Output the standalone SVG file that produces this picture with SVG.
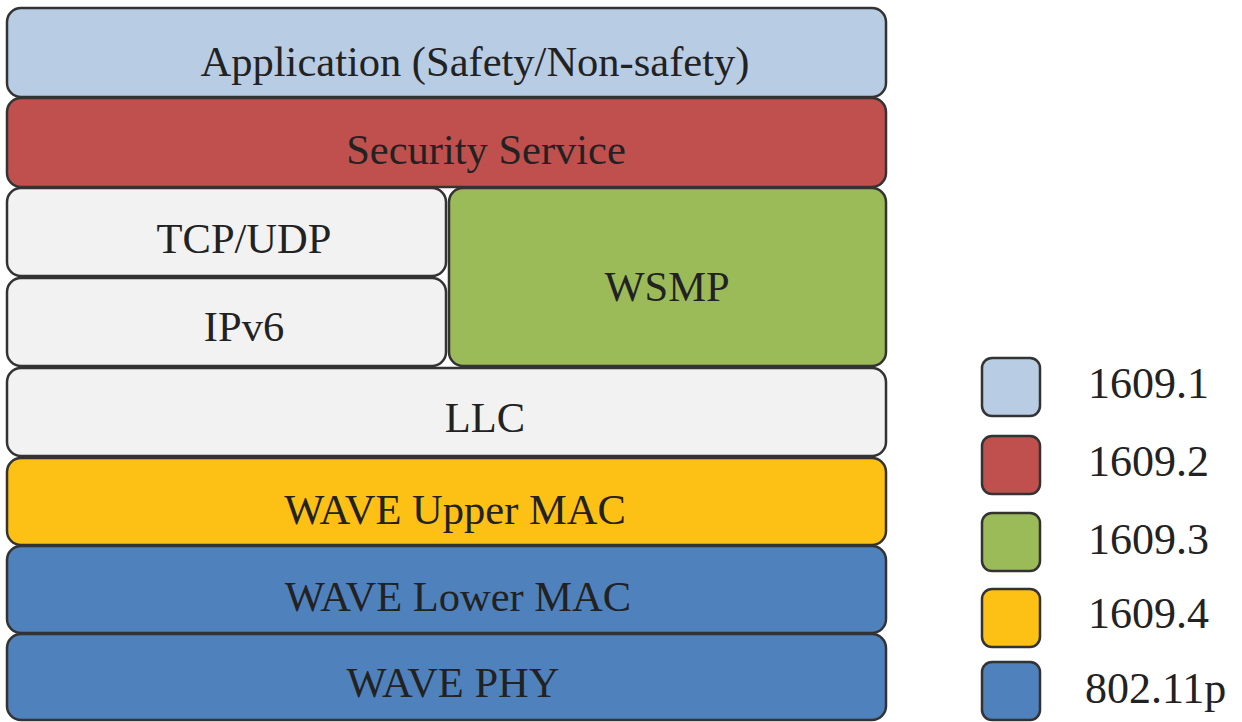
<svg xmlns="http://www.w3.org/2000/svg" width="1242" height="722" viewBox="0 0 1242 722">
<style>
.b{stroke:#333;stroke-width:2.5}
.t{font-family:"Liberation Serif","Times New Roman",serif;font-size:42.5px;fill:#222;text-anchor:middle}
.l{font-family:"Liberation Serif","Times New Roman",serif;font-size:44px;fill:#222}
.c1{fill:#b8cce4}.c2{fill:#c0504d}.c3{fill:#9bbb59}.c4{fill:#fdc014}.c5{fill:#4f81bd}.cg{fill:#f2f2f2}
</style>
<rect width="1242" height="722" fill="#fff"/>
<g id="application"><rect class="b c1" x="7" y="8" width="879" height="89" rx="14"/><text class="t" x="475" y="76">Application (Safety/Non-safety)</text></g>
<g id="security"><rect class="b c2" x="7" y="98" width="879" height="89" rx="14"/><text class="t" x="486" y="164">Security Service</text></g>
<g id="tcpudp"><rect class="b cg" x="7" y="188" width="439" height="88" rx="14"/><text class="t" x="244" y="253">TCP/UDP</text></g>
<g id="ipv6"><rect class="b cg" x="7" y="278" width="439" height="88" rx="14"/><text class="t" x="244" y="341">IPv6</text></g>
<g id="wsmp"><rect class="b c3" x="449" y="188" width="437" height="178" rx="14"/><text class="t" x="667" y="301">WSMP</text></g>
<g id="llc"><rect class="b cg" x="7" y="368" width="879" height="88" rx="14"/><text class="t" x="485" y="432">LLC</text></g>
<g id="upper-mac"><rect class="b c4" x="7" y="458" width="879" height="87" rx="14"/><text class="t" x="455" y="524">WAVE Upper MAC</text></g>
<g id="lower-mac"><rect class="b c5" x="7" y="546" width="879" height="87" rx="14"/><text class="t" x="458" y="611">WAVE Lower MAC</text></g>
<g id="phy"><rect class="b c5" x="7" y="634" width="879" height="86" rx="14"/><text class="t" x="453" y="697">WAVE PHY</text></g>
<g id="connectors"></g>
<g id="legend">
<rect class="b c1" x="982" y="358" width="58" height="58" rx="10"/><text class="l" x="1088" y="398">1609.1</text>
<rect class="b c2" x="982" y="436" width="58" height="58" rx="10"/><text class="l" x="1088" y="476">1609.2</text>
<rect class="b c3" x="982" y="513" width="58" height="58" rx="10"/><text class="l" x="1088" y="554">1609.3</text>
<rect class="b c4" x="982" y="589" width="58" height="58" rx="10"/><text class="l" x="1088" y="628">1609.4</text>
<rect class="b c5" x="982" y="662" width="58" height="58" rx="10"/><text class="l" x="1085" y="703">802.11p</text>
</g>
</svg>
